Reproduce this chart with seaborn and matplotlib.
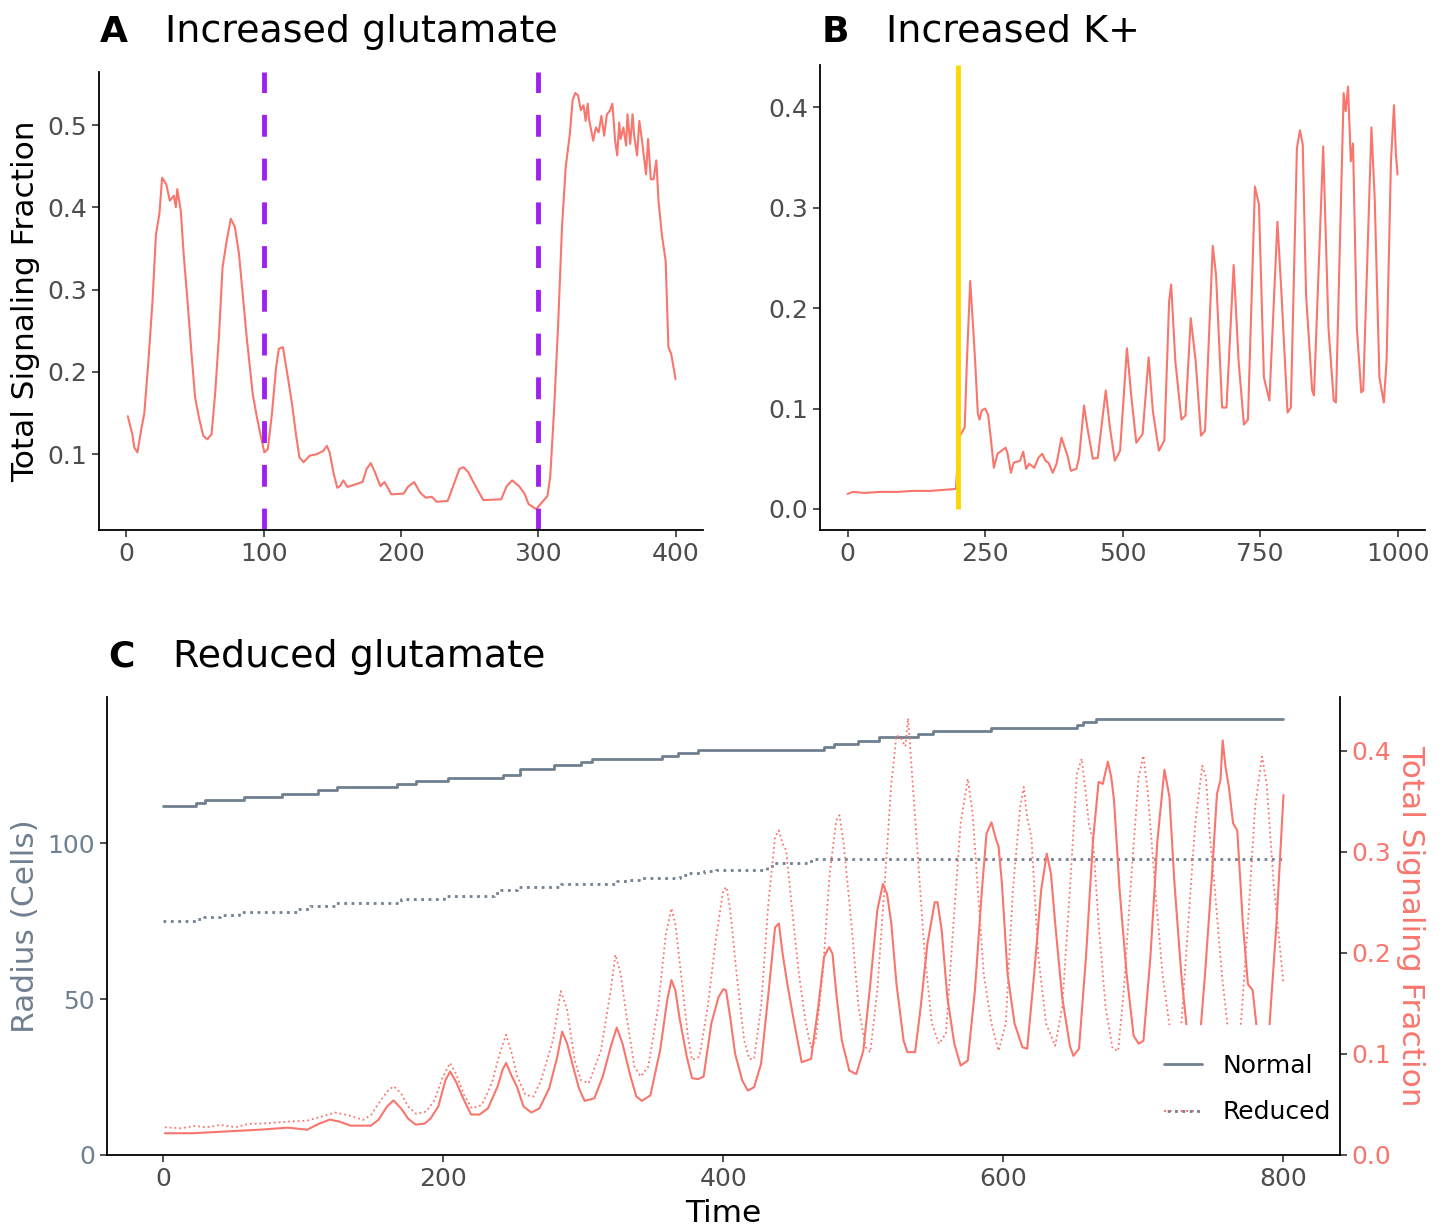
import matplotlib
matplotlib.use("Agg")
import matplotlib.pyplot as plt
import seaborn as sns
from matplotlib.lines import Line2D
from matplotlib.patches import Rectangle
from matplotlib.legend_handler import HandlerTuple

RED = "#F8766D"
GREY = "#708090"
PURPLE = "#A020F0"
GOLD = "#FFD700"

# ---- panel A: increased glutamate ----
a_time = [1, 4.3, 5.7, 8, 11, 13, 16, 19, 21.5, 24,
          26, 29, 31.6, 34.5, 36, 37, 39.6, 41.6, 44.5, 47.4,
          50, 53, 56, 59, 62, 64.6, 67.5, 70, 73, 76,
          79, 82, 84.7, 87.6, 92, 95, 97.6, 100.5, 103, 106,
          109, 111, 114, 118, 120.6, 123.5, 126, 129, 133.5, 139,
          143.5, 146, 148, 151, 153.6, 155.6, 158, 161, 166.5, 172,
          175, 178, 181, 185, 188, 193, 202, 205, 209.6, 214,
          218, 222.5, 226, 234, 238, 242.6, 245.5, 249, 252.7, 255.6,
          260, 273, 277, 281, 286, 290, 293, 298.6, 301.5, 306.7,
          308.7, 311.5, 314.4, 317.3, 320, 323, 325, 327, 329, 331,
          333, 334.5, 336, 337, 340, 342, 344, 346, 348, 350,
          352, 354, 356, 357.5, 359, 360, 362, 364, 365, 367,
          368.7, 370, 372, 373.6, 375.6, 376.7, 378.5, 380, 382, 384,
          386, 387.6, 390, 392.8, 394.8, 396.8, 398.6, 400]
a_signal = [0.146, 0.124, 0.108, 0.102, 0.132, 0.149, 0.213, 0.286, 0.367, 0.392,
            0.436, 0.428, 0.408, 0.414, 0.400, 0.422, 0.396, 0.345, 0.286, 0.222,
            0.169, 0.143, 0.122, 0.118, 0.124, 0.173, 0.246, 0.327, 0.359, 0.386,
            0.376, 0.343, 0.295, 0.242, 0.173, 0.145, 0.124, 0.102, 0.106, 0.149,
            0.205, 0.228, 0.230, 0.189, 0.161, 0.124, 0.096, 0.090, 0.098, 0.100,
            0.104, 0.110, 0.102, 0.076, 0.059, 0.061, 0.068, 0.060, 0.063, 0.066,
            0.082, 0.089, 0.078, 0.061, 0.066, 0.051, 0.052, 0.060, 0.066, 0.053,
            0.047, 0.048, 0.042, 0.043, 0.061, 0.082, 0.084, 0.078, 0.066, 0.057,
            0.044, 0.045, 0.061, 0.068, 0.061, 0.052, 0.039, 0.033, 0.039, 0.049,
            0.072, 0.153, 0.254, 0.376, 0.449, 0.489, 0.530, 0.539, 0.536, 0.518,
            0.524, 0.505, 0.526, 0.507, 0.481, 0.497, 0.491, 0.511, 0.487, 0.513,
            0.517, 0.526, 0.481, 0.463, 0.503, 0.483, 0.497, 0.475, 0.513, 0.477,
            0.513, 0.485, 0.463, 0.505, 0.481, 0.465, 0.440, 0.483, 0.434, 0.434,
            0.457, 0.408, 0.367, 0.335, 0.230, 0.222, 0.205, 0.191]
a_events = [100, 300]

# ---- panel B: increased K+ ----
b_time = [0, 10, 30, 60, 90, 120, 150, 175, 197, 203,
          205.8, 213, 217, 223, 228, 232, 237, 240, 244, 250,
          255.6, 261.5, 266, 272.7, 280, 287.5, 291, 297, 302, 313.5,
          319.5, 324.7, 330, 339.5, 347, 354, 360, 365.5, 373, 380,
          389, 395, 400, 406, 416, 421, 430, 436, 446, 455,
          469.5, 477, 486, 495.5, 508, 515.6, 525, 536.4, 547.5, 555,
          566, 576, 584.7, 588.4, 596, 607, 614.4, 624, 633, 642.6,
          650, 664, 670, 681, 689, 702, 711, 720.7, 728, 740.7,
          748, 757, 767, 781.6, 789, 800, 806, 817, 822.6, 827.6,
          833.6, 844.7, 848, 864.8, 874.4, 884, 888, 902, 905.6, 910,
          915, 919, 926, 934, 937.6, 952.5, 958.4, 967, 975, 980,
          988, 993.5, 997, 1000]
b_signal = [0.015, 0.017, 0.016, 0.017, 0.017, 0.018, 0.018, 0.019, 0.020, 0.070,
            0.0745, 0.081, 0.147, 0.227, 0.184, 0.147, 0.094, 0.089, 0.098, 0.100,
            0.094, 0.065, 0.041, 0.055, 0.058, 0.061, 0.055, 0.036, 0.046, 0.048,
            0.057, 0.040, 0.045, 0.041, 0.051, 0.055, 0.048, 0.046, 0.036, 0.045,
            0.071, 0.061, 0.053, 0.038, 0.040, 0.051, 0.103, 0.081, 0.050, 0.051,
            0.118, 0.081, 0.048, 0.058, 0.160, 0.114, 0.066, 0.0745, 0.151, 0.098,
            0.058, 0.068, 0.207, 0.2235, 0.147, 0.089, 0.093, 0.190, 0.147, 0.073,
            0.078, 0.262, 0.233, 0.101, 0.101, 0.243, 0.147, 0.084, 0.089, 0.321,
            0.303, 0.131, 0.108, 0.286, 0.214, 0.096, 0.101, 0.359, 0.377, 0.363,
            0.214, 0.118, 0.113, 0.361, 0.180, 0.108, 0.106, 0.414, 0.396, 0.4205,
            0.346, 0.364, 0.180, 0.116, 0.118, 0.380, 0.310, 0.131, 0.106, 0.147,
            0.346, 0.402, 0.353, 0.333]
b_event = 200

# ---- panel C: reduced glutamate ----
normal_step_time = [0, 23.5, 29.7, 58, 85, 111, 124, 167, 180.5, 203.7,
                    242.7, 254.6, 279.5, 298.4, 306, 356.4, 367.8, 382, 472, 479,
                    496, 511, 539, 550, 591, 652.5, 656.6, 666, 800]
normal_radius = [112, 113, 114, 115, 116, 117, 118, 119, 120, 121,
                 122, 124, 125, 126, 127, 128, 129, 130, 131, 132,
                 133, 134, 135, 136, 137, 138, 139, 140, 140]
reduced_step_time = [0, 23.5, 29, 41, 54, 96, 105, 123, 170, 201,
                     236, 241, 253, 284, 324, 332, 342, 369, 375, 386,
                     395, 431, 436, 463, 800]
reduced_radius = [75, 75.7, 76.4, 77, 78, 79, 80, 81, 82, 83,
                  84, 85, 86, 87, 87.8, 88.3, 88.8, 89.7, 90.4, 91,
                  91.6, 92.9, 93.7, 95, 95]

normal_time = [1.4, 21, 41, 69, 89, 103, 110, 119, 126, 134,
               148.5, 154, 160, 164.6, 170, 175, 180.5, 186.7, 191, 196.6,
               201.7, 205, 209, 215, 220, 226, 232, 239, 242.4, 245,
               249, 252.6, 257.4, 263, 268.7, 275.8, 281.5, 285, 288.5, 292.8,
               297, 301, 308, 314, 319.7, 324, 328, 333.8, 338, 342,
               348, 355, 360, 363, 365.8, 369, 374, 377.7, 382, 386,
               391.5, 396.6, 400, 402, 405, 408.5, 413.6, 417.6, 422, 427,
               432, 437, 439.7, 442.4, 445.8, 450.8, 456, 462.7, 467.8, 472,
               475.6, 478, 481, 484.7, 490, 495, 500, 505, 510, 514,
               517, 520, 523.7, 528.8, 531.5, 537, 540.7, 545.8, 551, 553,
               556, 560, 565, 569.5, 574.6, 579.7, 584.7, 588, 591.5, 595,
               596.6, 599, 603, 608, 613.6, 617, 622, 627, 631, 634,
               637, 642, 647.5, 650, 654, 659, 664, 668, 671, 674.6,
               677, 679, 683, 688, 693, 696.6, 700, 705, 710, 715,
               718.6, 722, 727, 731, 736, 740, 744, 749, 752.5, 755,
               756.6, 758.6, 761, 764, 767, 771, 774.6, 778, 780.7, 784,
               787, 790, 795, 800]
normal_signal = [0.0215, 0.0215, 0.023, 0.025, 0.027, 0.025, 0.030, 0.035, 0.033, 0.029,
                 0.029, 0.035, 0.048, 0.054, 0.046, 0.036, 0.030, 0.031, 0.036, 0.048,
                 0.074, 0.0825, 0.073, 0.054, 0.040, 0.040, 0.046, 0.068, 0.084, 0.091,
                 0.078, 0.068, 0.048, 0.042, 0.046, 0.066, 0.097, 0.122, 0.1106, 0.0875,
                 0.066, 0.0535, 0.056, 0.0776, 0.107, 0.126, 0.1106, 0.0776, 0.0578, 0.0535,
                 0.059, 0.104, 0.153, 0.173, 0.163, 0.134, 0.097, 0.076, 0.075, 0.0776,
                 0.130, 0.156, 0.164, 0.163, 0.136, 0.100, 0.0736, 0.0637, 0.067, 0.090,
                 0.156, 0.225, 0.229, 0.199, 0.169, 0.130, 0.0917, 0.095, 0.146, 0.196,
                 0.2056, 0.199, 0.156, 0.113, 0.0835, 0.080, 0.103, 0.169, 0.242, 0.268,
                 0.258, 0.229, 0.169, 0.113, 0.1017, 0.1017, 0.143, 0.209, 0.250, 0.250,
                 0.222, 0.156, 0.110, 0.0884, 0.0934, 0.163, 0.262, 0.318, 0.329, 0.311,
                 0.305, 0.268, 0.179, 0.130, 0.1066, 0.105, 0.179, 0.262, 0.298, 0.278,
                 0.229, 0.156, 0.108, 0.098, 0.105, 0.196, 0.311, 0.369, 0.367, 0.389,
                 0.374, 0.351, 0.262, 0.179, 0.118, 0.110, 0.113, 0.196, 0.311, 0.381,
                 0.354, 0.272, 0.179, 0.125, 0.100, 0.110, 0.179, 0.278, 0.357, 0.371,
                 0.410, 0.384, 0.364, 0.328, 0.321, 0.229, 0.169, 0.163, 0.128, 0.100,
                 0.105, 0.128, 0.229, 0.356]

reduced_time = [1.4, 12.7, 22.6, 31, 41, 52, 61, 75, 89, 103,
                114.6, 123, 131.5, 143, 148.5, 154, 160, 164.6, 170, 175,
                181, 188, 194, 199.4, 205, 209, 215, 220.6, 227.7, 234.8,
                240.5, 245, 249, 253, 258.8, 264.5, 270, 278.6, 284, 288.5,
                294, 298.4, 304, 312.6, 319.7, 323, 326.7, 331, 336.6, 341,
                346.5, 353.6, 359, 363, 365.8, 370.6, 374.8, 377.7, 383, 389,
                394.6, 400, 402.4, 405, 410, 415, 418.6, 422, 427, 432,
                437, 439.7, 442.4, 445, 449, 454, 459, 462.7, 466, 471,
                476, 480.7, 483, 486, 491.5, 496.6, 501.7, 505, 510, 515,
                520, 523.7, 527, 530, 532, 535.6, 539, 544, 549, 554,
                559, 564.4, 569.5, 574.6, 578, 581, 586, 591.5, 596.6, 601.7,
                606.8, 612, 614.6, 617, 620, 625, 630.5, 637, 642, 647.5,
                652.5, 656, 658.6, 661, 664, 668, 673, 678, 682, 686,
                691.5, 696.6, 700, 703, 708.5, 713.6, 718.6, 723, 727, 732,
                737, 742, 744.6, 747.5, 751, 756, 760, 765, 769.5, 774.6,
                779.7, 784.7, 788, 790, 793, 800]
reduced_signal = [0.0274, 0.0264, 0.0287, 0.0274, 0.0297, 0.0274, 0.0307, 0.0314, 0.033, 0.034,
                  0.0386, 0.0419, 0.0396, 0.0347, 0.0396, 0.051, 0.0627, 0.068, 0.061, 0.048,
                  0.0406, 0.043, 0.0545, 0.076, 0.091, 0.081, 0.0594, 0.046, 0.0495, 0.071,
                  0.1007, 0.119, 0.1007, 0.0776, 0.0594, 0.0578, 0.074, 0.114, 0.162, 0.144,
                  0.0934, 0.074, 0.071, 0.103, 0.163, 0.198, 0.180, 0.137, 0.0875, 0.0776,
                  0.0875, 0.147, 0.218, 0.244, 0.229, 0.170, 0.117, 0.094, 0.097, 0.147,
                  0.212, 0.262, 0.265, 0.242, 0.173, 0.113, 0.095, 0.095, 0.146, 0.245,
                  0.3145, 0.321, 0.308, 0.301, 0.245, 0.179, 0.130, 0.1066, 0.113, 0.179,
                  0.278, 0.331, 0.336, 0.308, 0.229, 0.146, 0.1066, 0.1017, 0.163, 0.262,
                  0.367, 0.415, 0.412, 0.404, 0.432, 0.361, 0.295, 0.196, 0.130, 0.110,
                  0.120, 0.229, 0.328, 0.372, 0.338, 0.278, 0.179, 0.130, 0.103, 0.130,
                  0.262, 0.344, 0.364, 0.334, 0.3145, 0.196, 0.130, 0.108, 0.146, 0.262,
                  0.377, 0.392, 0.361, 0.328, 0.311, 0.229, 0.146, 0.105, 0.103, 0.163,
                  0.278, 0.374, 0.395, 0.361, 0.262, 0.179, 0.128, 0.100, 0.128, 0.229,
                  0.328, 0.385, 0.374, 0.3145, 0.262, 0.179, 0.128, 0.100, 0.128, 0.229,
                  0.344, 0.394, 0.367, 0.328, 0.268, 0.169]


def style_axes(ax):
    sns.despine(ax=ax)
    for side in ["left", "bottom"]:
        ax.spines[side].set_linewidth(1.3)
        ax.spines[side].set_color("black")
    ax.tick_params(labelsize=18, labelcolor="#4D4D4D", length=5, width=1.2, color="#333333")
    ax.set_xlabel("")
    ax.set_ylabel("")


sns.set_theme(style="ticks")
plt.rcParams["font.family"] = ["DejaVu Sans"]

fig = plt.figure(figsize=(14.45, 12.27), dpi=100)
ax_a = fig.add_axes([0.0685, 0.568, 0.418, 0.3733])
ax_b = fig.add_axes([0.5675, 0.568, 0.4187, 0.379])
ax_c = fig.add_axes([0.074, 0.0587, 0.853, 0.3733])

# Panel A
sns.lineplot(x=a_time, y=a_signal, ax=ax_a, color=RED, linewidth=1.5)
for t in a_events:
    ax_a.axvline(t, color=PURPLE, linewidth=3.5, dashes=(4.5, 4.5))
style_axes(ax_a)
ax_a.set_xlim(-20, 420)
ax_a.set_ylim(0.0076, 0.5644)
ax_a.set_xticks([0, 100, 200, 300, 400])
ax_a.set_yticks([0.1, 0.2, 0.3, 0.4, 0.5])
ax_a.set_ylabel("Total Signaling Fraction", fontsize=22.5, color="black")
ax_a.yaxis.set_label_coords(-0.121, 0.5)
ax_a.yaxis.label.set_va("center")

# Panel B
sns.lineplot(x=b_time, y=b_signal, ax=ax_b, color=RED, linewidth=1.5)
ax_b.vlines(b_event, 0, 0.442, color=GOLD, linewidth=3.5)
style_axes(ax_b)
ax_b.set_xlim(-50, 1050)
ax_b.set_ylim(-0.021, 0.442)
ax_b.set_xticks([0, 250, 500, 750, 1000])
ax_b.set_yticks([0.0, 0.1, 0.2, 0.3, 0.4])
ax_b.set_yticklabels(["0.0", "0.1", "0.2", "0.3", "0.4"])

# Panel C
sns.lineplot(x=normal_step_time, y=normal_radius, ax=ax_c, color=GREY,
             linewidth=2, drawstyle="steps-post")
sns.lineplot(x=reduced_step_time, y=reduced_radius, ax=ax_c, color=GREY,
             linewidth=2, linestyle=":", drawstyle="steps-post")
style_axes(ax_c)
ax_c.set_xlim(-40, 840)
ax_c.set_ylim(0, 147)
ax_c.set_xticks([0, 200, 400, 600, 800])
ax_c.set_yticks([0, 50, 100])
ax_c.tick_params(axis="y", labelcolor=GREY)
ax_c.set_xlabel("Time", fontsize=22.5, color="black")
ax_c.xaxis.set_label_coords(0.5, -0.127)
ax_c.xaxis.label.set_va("center")
ax_c.set_ylabel("Radius (Cells)", fontsize=22.5, color=GREY)
ax_c.yaxis.set_label_coords(-0.0657, 0.5)
ax_c.yaxis.label.set_va("center")

ax_r = ax_c.twinx()
sns.lineplot(x=normal_time, y=normal_signal, ax=ax_r, color=RED, linewidth=1.5)
sns.lineplot(x=reduced_time, y=reduced_signal, ax=ax_r, color=RED,
             linewidth=1.3, linestyle=":")
ax_r.set_ylim(0, 0.453)
for side in ["top", "left", "bottom"]:
    ax_r.spines[side].set_visible(False)
ax_r.spines["right"].set_linewidth(1.3)
ax_r.spines["right"].set_color("black")
ax_r.set_yticks([0.0, 0.1, 0.2, 0.3, 0.4])
ax_r.set_yticklabels(["0.0", "0.1", "0.2", "0.3", "0.4"])
ax_r.tick_params(labelsize=18, labelcolor=RED, length=5, width=1.2, color="#333333")
ax_r.set_ylabel("Total Signaling Fraction", fontsize=22.5, color=RED, rotation=270)
ax_r.yaxis.set_label_coords(1.0576, 0.5)
ax_r.yaxis.label.set_va("center")
ax_r.yaxis.label.set_ha("center")

# white legend background that hides the lines behind it
ax_r.add_patch(Rectangle((0.852, 0.003), 0.145, 0.281, transform=ax_r.transAxes,
                         facecolor="white", edgecolor="none", zorder=2.6))
handles = [Line2D([], [], color=GREY, linewidth=2),
           (Line2D([], [], color=RED, linewidth=1.5, linestyle=":"),
            Line2D([], [], color=GREY, linewidth=2, linestyle=(1.5, (1, 1.65))))]
leg = ax_r.legend(handles, ["Normal", "Reduced"], loc="upper left",
                  bbox_to_anchor=(0.8573, 0.2205),
                  handler_map={tuple: HandlerTuple(ndivide=1)},
                  frameon=False, fontsize=18, handlelength=1.55, handletextpad=0.8,
                  labelspacing=0.9, borderpad=0, borderaxespad=0)
for txt in leg.get_texts():
    txt.set_color("black")

# Panel titles
for x0, x1, y, letter, title in [(0.0692, 0.1142, 0.966, "A", "Increased glutamate"),
                                 (0.5689, 0.6132, 0.966, "B", "Increased K+"),
                                 (0.0747, 0.1197, 0.4564, "C", "Reduced glutamate")]:
    fig.text(x0, y, letter, fontsize=26, fontweight="bold", va="baseline", color="black")
    fig.text(x1, y, title, fontsize=27.4, va="baseline", color="black")

fig.savefig("out.png", dpi=100)
